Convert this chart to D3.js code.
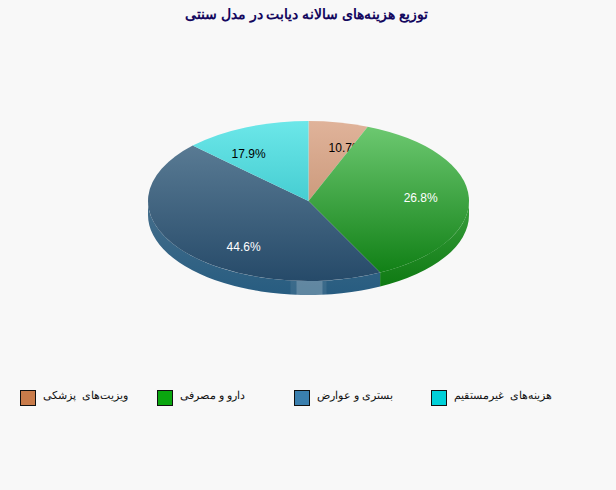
<!DOCTYPE html>
<html>
<head>
<meta charset="utf-8">
<script src="https://cdn.jsdelivr.net/npm/d3@7"></script>
<style>
  html, body { margin: 0; padding: 0; background: #f8f8f8; }
  svg { display: block; }
  text { font-family: "Liberation Sans", Arial, sans-serif; }
</style>
</head>
<body>
<div id="chart"></div>
<script>
var title = "توزیع هزینه‌های سالانه دیابت در مدل سنتی";
var categories = ["ویزیت‌های  پزشکی", "دارو و مصرفی", "بستری و عوارض", "هزینه‌های  غیرمستقیم"];
var values = [10.7, 26.8, 44.6, 17.9];

var legendColors = ["#c97b4a", "#0aa60f", "#3a7fae", "#00d0d8"];
var topColors = ["#e0b39a", "#70cb74", "#62839b", "#6ce7e9"];
var bottomColors = ["#b8825f", "#0c7c11", "#264a69", "#1fb4ba"];
var labelColors = ["#000", "#fff", "#fff", "#000"];
var sideTop = ["#b07a58", "#3a9f3e", "#466f8c", "#1cb0b5"];
var sideBottom = ["#a06c4c", "#0a760e", "#275c80", "#159ca0"];

var width = 616, height = 490;
var cx = 308.5, cy = 201, rx = 160.5, ry = 80, depth = 14;

var svg = d3.select("#chart").append("svg")
    .attr("width", width)
    .attr("height", height);

var defs = svg.append("defs");

// screen position where a ray at angle a (clockwise from 12 o'clock) meets the ellipse
function edge(a, dy) {
  var s = Math.sin(a), c = Math.cos(a);
  var r = 1 / Math.sqrt(s * s / (rx * rx) + c * c / (ry * ry));
  return [cx + r * s, cy - r * c + (dy || 0)];
}

function topPath(d) {
  var p0 = edge(d.startAngle), p1 = edge(d.endAngle);
  var large = d.endAngle - d.startAngle > Math.PI ? 1 : 0;
  return "M" + cx + "," + cy + "L" + p0 + "A" + rx + "," + ry + " 0 " + large + " 1 " + p1 + "Z";
}

// only the front half of the rim is visible
function sidePath(d) {
  var a0 = Math.max(d.startAngle, Math.PI / 2);
  var a1 = Math.min(d.endAngle, Math.PI * 1.5);
  if (a1 <= a0) return null;
  var p0 = edge(a0), p1 = edge(a1), q0 = edge(a0, depth), q1 = edge(a1, depth);
  return "M" + p0 + "A" + rx + "," + ry + " 0 0 1 " + p1 + "L" + q1 +
         "A" + rx + "," + ry + " 0 0 0 " + q0 + "Z";
}

var pie = d3.pie().sort(null).value(function(d) { return d; });
var slices = pie(values);

slices.forEach(function(d, i) {
  var g = defs.append("linearGradient")
      .attr("id", "top" + i)
      .attr("gradientUnits", "userSpaceOnUse")
      .attr("x1", 0).attr("x2", 0)
      .attr("y1", cy - ry).attr("y2", cy + ry);
  g.append("stop").attr("offset", 0).attr("stop-color", topColors[i]);
  g.append("stop").attr("offset", 1).attr("stop-color", bottomColors[i]);

  var s = defs.append("linearGradient")
      .attr("id", "side" + i)
      .attr("gradientUnits", "userSpaceOnUse")
      .attr("x1", 0).attr("x2", 0)
      .attr("y1", cy).attr("y2", cy + ry + depth);
  s.append("stop").attr("offset", 0).attr("stop-color", sideTop[i]);
  s.append("stop").attr("offset", 1).attr("stop-color", sideBottom[i]);
});

// rim first
slices.forEach(function(d, i) {
  var p = sidePath(d);
  if (p) svg.append("path").attr("d", p).attr("fill", "url(#side" + i + ")");
});

// highlight on the front of the rim
var front = edge(Math.PI);
svg.append("rect")
    .attr("x", front[0] - 18).attr("y", front[1])
    .attr("width", 36).attr("height", depth)
    .attr("fill", "#fff").attr("opacity", 0.08);
svg.append("rect")
    .attr("x", front[0] - 12).attr("y", front[1])
    .attr("width", 26).attr("height", depth)
    .attr("fill", "#fff").attr("opacity", 0.2);

// slice and label in turn, the next slice paints over the label before it
slices.forEach(function(d, i) {
  svg.append("path")
      .attr("d", topPath(d))
      .attr("fill", "url(#top" + i + ")");

  var mid = (d.startAngle + d.endAngle) / 2;
  svg.append("text")
      .attr("x", cx + rx * 0.7 * Math.sin(mid))
      .attr("y", cy - ry * 0.7 * Math.cos(mid) + 4)
      .attr("text-anchor", "middle")
      .attr("font-size", 12)
      .attr("fill", labelColors[i])
      .text(d.value.toFixed(1) + "%");
});

svg.append("text")
    .attr("x", 306.5)
    .attr("y", 19)
    .attr("text-anchor", "middle")
    .attr("font-family", "DejaVu Sans")
    .attr("font-size", 14)
    .attr("font-weight", "bold")
    .attr("fill", "#14085e")
    .text(title);

var legendX = d3.scalePoint()
    .domain(categories)
    .range([20, 431]);

var legend = svg.selectAll(".legend")
    .data(categories)
    .enter().append("g")
    .attr("class", "legend")
    .attr("transform", function(d) { return "translate(" + legendX(d) + ",390)"; });

legend.append("rect")
    .attr("x", 0.5).attr("y", 0.5)
    .attr("width", 15).attr("height", 15)
    .attr("fill", function(d, i) { return legendColors[i]; })
    .attr("stroke", "#111");

legend.append("text")
    .attr("x", 23)
    .attr("y", 9)
    .attr("font-family", "DejaVu Sans")
    .attr("font-size", 11)
    .attr("fill", "#111")
    .style("white-space", "pre")
    .text(function(d) { return d; });
</script>
</body>
</html>
